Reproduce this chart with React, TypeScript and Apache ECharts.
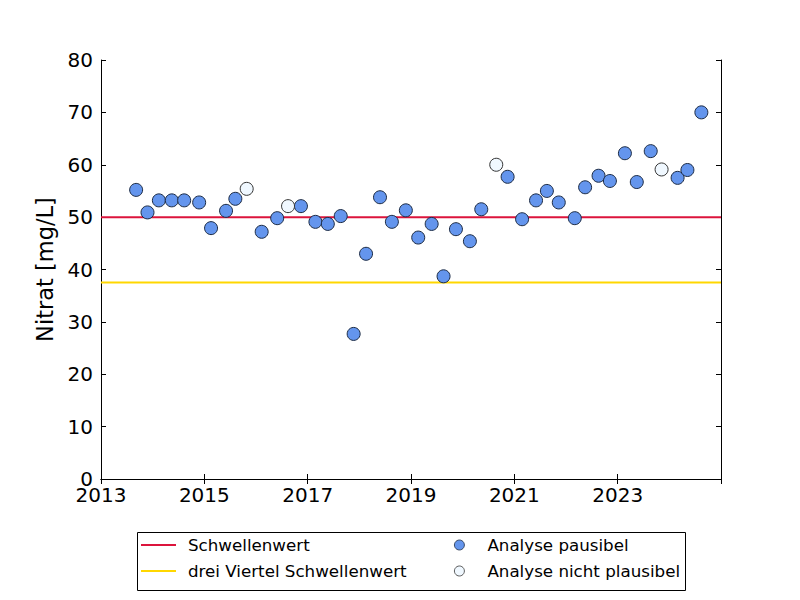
import React, { useEffect, useRef } from "react";
import * as echarts from "echarts";

// Sampling dates (decimal years) and nitrate values [mg/L]
const plausibleDates = [
  2013.68, 2013.9, 2014.12, 2014.37, 2014.61, 2014.9, 2015.13, 2015.42, 2015.6,
  2016.11, 2016.41, 2016.87, 2017.15, 2017.39, 2017.64, 2017.89, 2018.13, 2018.4,
  2018.63, 2018.9, 2019.14, 2019.4, 2019.63, 2019.87, 2020.14, 2020.36, 2020.87,
  2021.15, 2021.42, 2021.63, 2021.86, 2022.17, 2022.37, 2022.63, 2022.85, 2023.14,
  2023.37, 2023.64, 2024.16, 2024.35, 2024.62,
];
const plausibleValues = [
  55.2, 50.9, 53.2, 53.2, 53.2, 52.8, 47.9, 51.2, 53.5,
  47.2, 49.8, 52.1, 49.1, 48.7, 50.2, 27.7, 43.0, 53.8,
  49.1, 51.3, 46.1, 48.7, 38.7, 47.7, 45.4, 51.5, 57.7,
  49.6, 53.2, 55.0, 52.8, 49.8, 55.7, 57.9, 56.9, 62.2,
  56.7, 62.6, 57.5, 59.0, 70.0,
];
const implausibleDates = [2015.82, 2016.62, 2020.65, 2023.85];
const implausibleValues = [55.4, 52.1, 60.0, 59.1];

const threshold = 50;
const threeQuarterThreshold = 37.5;
const xMin = 2013;
const xMax = 2025;
const xInterval = 2;
const yMin = 0;
const yMax = 80;
const yInterval = 10;

const seriesNames = {
  threshold: "Schwellenwert",
  threeQuarter: "drei Viertel Schwellenwert",
  plausible: "Analyse pausibel",
  implausible: "Analyse nicht plausibel",
};
const yAxisName = "Nitrat [mg/L]";

const FONT = "DejaVu Sans";

export default function App() {
  const ref = useRef<HTMLDivElement>(null);

  useEffect(() => {
    if (!ref.current) return;
    const chart = echarts.init(ref.current, undefined, { renderer: "svg" });

    const tick = { show: true, inside: true, length: 5, lineStyle: { color: "#000", width: 1 } };
    const axisLine = { show: true, lineStyle: { color: "#000", width: 1 } };

    const option: any = {
      animation: false,
      backgroundColor: "#fff",
      textStyle: { fontFamily: FONT },
      grid: { left: 101, right: 79, top: 60, bottom: 121, containLabel: false },
      xAxis: [
        {
          type: "value",
          position: "bottom",
          min: xMin,
          max: xMax,
          interval: xInterval,
          axisLine,
          axisTick: tick,
          splitLine: { show: false },
          axisLabel: {
            color: "#000",
            fontSize: 20,
            fontFamily: FONT,
            margin: 6,
            formatter: (v: number) => (v >= xMax ? "" : String(v)),
          },
        },
        {
          type: "value",
          position: "top",
          min: xMin,
          max: xMax,
          interval: xInterval,
          axisLine,
          axisTick: tick,
          splitLine: { show: false },
          axisLabel: { show: false },
        },
      ],
      yAxis: [
        {
          type: "value",
          position: "left",
          min: yMin,
          max: yMax,
          interval: yInterval,
          axisLine,
          axisTick: tick,
          splitLine: { show: false },
          axisLabel: { color: "#000", fontSize: 20, fontFamily: FONT, margin: 8 },
          name: yAxisName,
          nameLocation: "middle",
          nameGap: 42,
          nameTextStyle: { color: "#000", fontSize: 22.5, fontFamily: FONT },
        },
        {
          type: "value",
          position: "right",
          min: yMin,
          max: yMax,
          interval: yInterval,
          axisLine,
          axisTick: tick,
          splitLine: { show: false },
          axisLabel: { show: false },
        },
      ],
      legend: [
        {
          data: [seriesNames.threshold, seriesNames.threeQuarter],
          orient: "vertical",
          left: 141,
          top: 535,
          padding: 0,
          itemWidth: 35,
          itemHeight: 2,
          itemGap: 6,
          icon: "rect",
          selectedMode: false,
          textStyle: { color: "#000", fontSize: 16.7, fontFamily: FONT, lineHeight: 20, padding: [0, 0, 0, 7] },
        },
        {
          data: [seriesNames.plausible, seriesNames.implausible],
          orient: "vertical",
          left: 454,
          top: 535,
          padding: 0,
          itemWidth: 10,
          itemHeight: 10,
          itemGap: 6,
          icon: "circle",
          selectedMode: false,
          itemStyle: { borderWidth: 0.8 },
          textStyle: { color: "#000", fontSize: 16.7, fontFamily: FONT, lineHeight: 20, padding: [0, 0, 0, 18] },
        },
      ],
      graphic: [
        {
          type: "rect",
          left: 135,
          top: 530,
          shape: { x: 0, y: 0, width: 548, height: 58 },
          style: { fill: "none", stroke: "#000", lineWidth: 1 },
          silent: true,
          z: -1,
        },
      ],
      series: [
        {
          name: seriesNames.threshold,
          type: "line",
          color: "#DC143C",
          data: [
            [xMin, threshold],
            [xMax, threshold],
          ],
          symbol: "none",
          lineStyle: { color: "#DC143C", width: 2 },
          z: 1,
        },
        {
          name: seriesNames.threeQuarter,
          type: "line",
          color: "#FFD700",
          data: [
            [xMin, threeQuarterThreshold],
            [xMax, threeQuarterThreshold],
          ],
          symbol: "none",
          lineStyle: { color: "#FFD700", width: 2 },
          z: 1,
        },
        {
          name: seriesNames.plausible,
          type: "scatter",
          data: plausibleDates.map((d, i) => [d, plausibleValues[i]]),
          symbol: "circle",
          symbolSize: 13,
          itemStyle: { color: "#6495ED", borderColor: "#1c2b44", borderWidth: 1, opacity: 1 },
          z: 3,
        },
        {
          name: seriesNames.implausible,
          type: "scatter",
          data: implausibleDates.map((d, i) => [d, implausibleValues[i]]),
          symbol: "circle",
          symbolSize: 13,
          itemStyle: { color: "#F0F8FF", borderColor: "#333333", borderWidth: 1, opacity: 1 },
          z: 3,
        },
      ],
    };

    chart.setOption(option);
    return () => chart.dispose();
  }, []);

  return (
    <div
      ref={ref}
      style={{ position: "absolute", left: 0, top: 0, width: 800, height: 600 }}
    />
  );
}
